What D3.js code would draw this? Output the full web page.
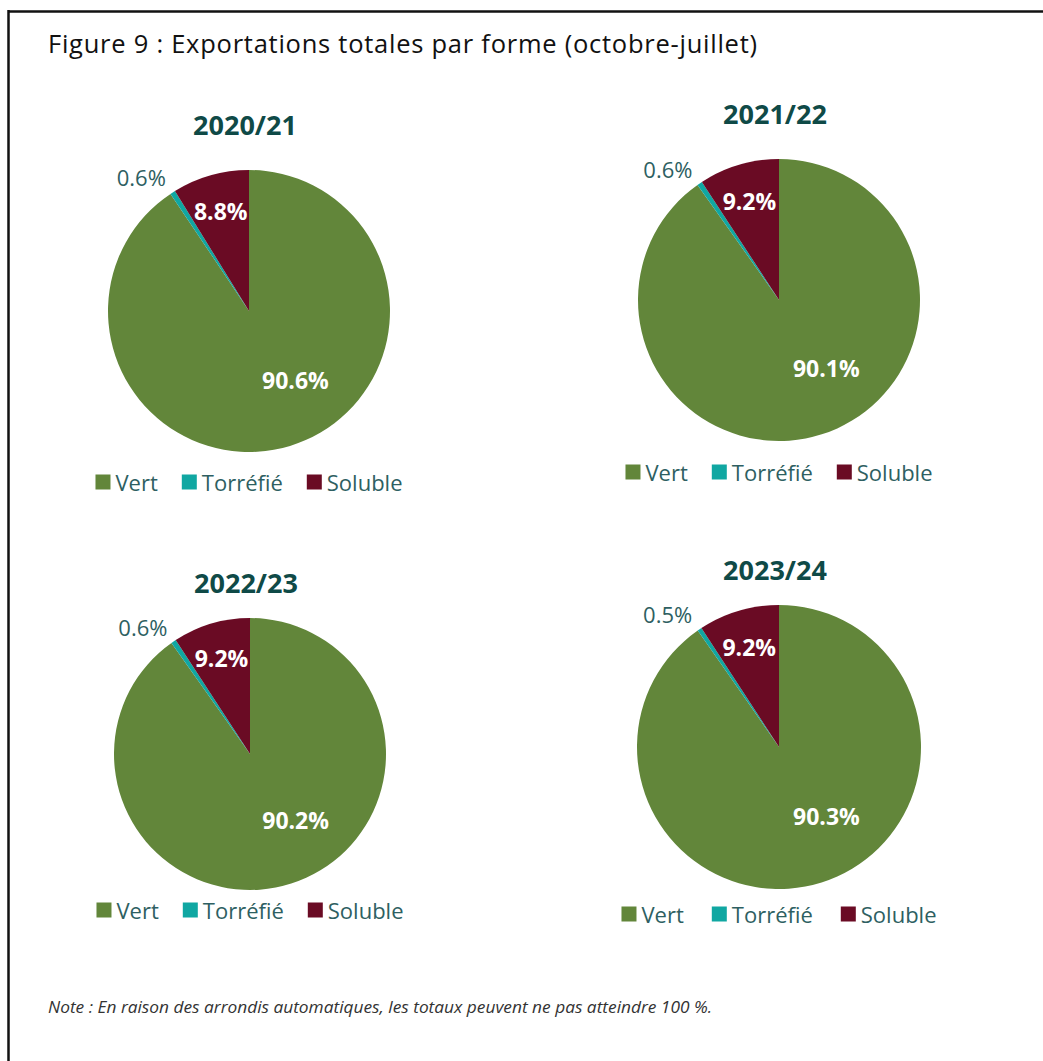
<!DOCTYPE html>
<html>
<head>
<meta charset="utf-8">
<script src="https://cdn.jsdelivr.net/npm/d3@7"></script>
<style>
  html, body { margin: 0; padding: 0; background: #ffffff; }
  svg { display: block; }
  text { font-family: "Open Sans", "Noto Sans", sans-serif; }
</style>
</head>
<body>
<svg id="chart" width="1043" height="1061"></svg>
<script>
// ---------- data ----------
const categories = ["Vert", "Torréfié", "Soluble"];
const years = ["2020/21", "2021/22", "2022/23", "2023/24"];
const vert     = [90.6, 90.1, 90.2, 90.3];
const torrefie = [0.6, 0.6, 0.6, 0.5];
const soluble  = [8.8, 9.2, 9.2, 9.2];
const titleText = "Figure 9 : Exportations totales par forme (octobre-juillet)";
const noteText = "Note : En raison des arrondis automatiques, les totaux peuvent ne pas atteindre 100 %.";

// ---------- style / layout ----------
const colors = { "Vert": "#62863a", "Torréfié": "#10a7a2", "Soluble": "#6a0b24" };
const titleColor = "#0f4a47";
const textColor = "#2e5f62";
const panels = [
  { cx: 249, cy: 311, r: 141, titleY: 124, legendY: 482, gapItem: 24 },
  { cx: 779, cy: 300, r: 141, titleY: 113, legendY: 472, gapItem: 24 },
  { cx: 250, cy: 754, r: 136, titleY: 582, legendY: 910, gapItem: 24 },
  { cx: 779, cy: 747, r: 142, titleY: 569, legendY: 914, gapItem: 28 }
];

const svg = d3.select("#chart");

// frame: top and left lines
svg.append("line").attr("x1", 8).attr("x2", 1043).attr("y1", 11.5).attr("y2", 11.5)
  .attr("stroke", "#111").attr("stroke-width", 2.5);
svg.append("line").attr("x1", 8.5).attr("x2", 8.5).attr("y1", 10).attr("y2", 1061)
  .attr("stroke", "#111").attr("stroke-width", 2.5);

svg.append("text").attr("x", 48).attr("y", 53)
  .attr("font-size", 25.5).attr("fill", "#111")
  .attr("textLength", 709).attr("lengthAdjust", "spacing")
  .text(titleText);

svg.append("text").attr("x", 48).attr("y", 1013)
  .attr("font-size", 16.5).attr("font-style", "italic").attr("fill", "#333")
  .attr("textLength", 664).attr("lengthAdjust", "spacingAndGlyphs")
  .text(noteText);

const pie = d3.pie().sort(null).value(d => d.value);

years.forEach((yr, i) => {
  const p = panels[i];
  const data = [
    { cat: categories[0], value: vert[i] },
    { cat: categories[1], value: torrefie[i] },
    { cat: categories[2], value: soluble[i] }
  ];
  const arcs = pie(data);
  const g = svg.append("g").attr("transform", `translate(${p.cx},${p.cy})`);
  const arc = d3.arc().innerRadius(0).outerRadius(p.r);

  g.selectAll("path").data(arcs).enter().append("path")
    .attr("d", arc)
    .attr("fill", d => colors[d.data.cat]);

  // title
  svg.append("text").attr("x", p.cx - 4).attr("y", p.titleY)
    .attr("text-anchor", "middle").attr("dominant-baseline", "central")
    .attr("font-size", 27).attr("font-weight", 700).attr("fill", titleColor)
    .text(yr);

  // labels
  const pos = (d, angleShiftDeg, k) => {
    const a = (d.startAngle + d.endAngle) / 2 + angleShiftDeg * Math.PI / 180;
    return [Math.sin(a) * p.r * k, -Math.cos(a) * p.r * k];
  };
  const fmt = v => v.toFixed(1) + "%";
  // Vert (inside)
  let [x, y] = pos(arcs[0], -17, 0.59);
  g.append("text").attr("x", x).attr("y", y)
    .attr("text-anchor", "middle").attr("dominant-baseline", "central")
    .attr("font-size", 23).attr("font-weight", 700).attr("fill", "#ffffff")
    .text(fmt(arcs[0].data.value));
  // Torréfié (outside)
  [x, y] = pos(arcs[1], -6, 1.22);
  g.append("text").attr("x", x).attr("y", y)
    .attr("text-anchor", "middle").attr("dominant-baseline", "central")
    .attr("font-size", 22).attr("fill", textColor)
    .text(fmt(arcs[1].data.value));
  // Soluble (inside)
  [x, y] = pos(arcs[2], 0, 0.735);
  g.append("text").attr("x", x).attr("y", y)
    .attr("text-anchor", "middle").attr("dominant-baseline", "central")
    .attr("font-size", 23).attr("font-weight", 700).attr("fill", "#ffffff")
    .text(fmt(arcs[2].data.value));

  // legend
  const lg = svg.append("g");
  const sq = 15, gapSq = 5, gapItem = p.gapItem;
  let cursor = 0;
  categories.forEach(c => {
    const it = lg.append("g");
    it.append("rect").attr("x", 0).attr("y", -sq / 2).attr("width", sq).attr("height", sq)
      .attr("fill", colors[c]);
    const t = it.append("text").attr("x", sq + gapSq).attr("y", 0)
      .attr("dominant-baseline", "central")
      .attr("font-size", 22).attr("fill", textColor).text(c);
    const w = sq + gapSq + t.node().getComputedTextLength();
    it.attr("transform", `translate(${cursor},0)`);
    cursor += w + gapItem;
  });
  const total = cursor - gapItem;
  lg.attr("transform", `translate(${p.cx - total / 2},${p.legendY})`);
});
</script>
</body>
</html>
